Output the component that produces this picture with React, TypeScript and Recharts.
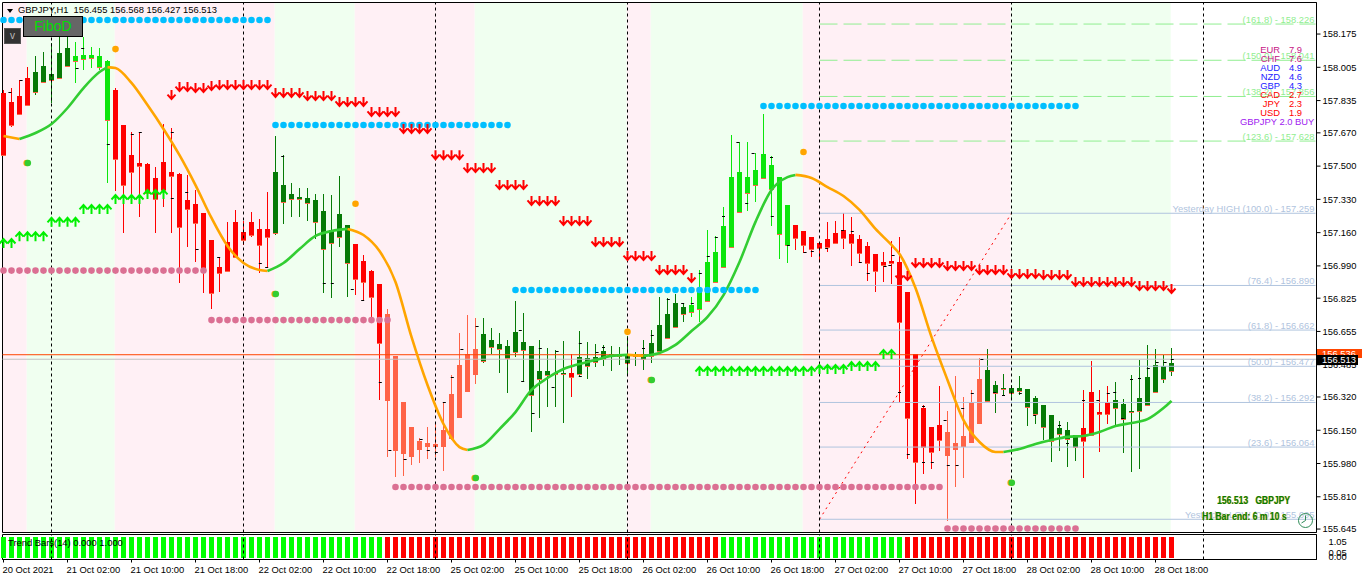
import { Bar, ComposedChart, Line, ReferenceArea, ReferenceLine, XAxis, YAxis } from "recharts"

const FONT = "'Liberation Sans', Arial, sans-serif"

const highs = [
  157.889, 157.899, 157.94, 158.006, 158.062, 158.083, 158.13, 158.16, 158.17, 158.134,
  158.16, 158.109, 158.104, 158.042, 157.899, 157.71, 157.675, 157.675, 157.516, 157.495,
  157.715, 157.695, 157.465, 157.454, 157.378, 157.261, 157.122, 157.035, 157.215, 157.276,
  157.22, 157.266, 157.23, 157.368, 157.654, 157.556, 157.414, 157.388, 157.388, 157.358,
  157.358, 157.352, 157.449, 157.199, 157.102, 157.045, 156.969, 156.898, 156.77, 156.53,
  156.295, 156.167, 156.11, 156.167, 156.187, 156.295, 156.432, 156.647, 156.739, 156.724,
  156.724, 156.672, 156.647, 156.611, 156.811, 156.749, 156.58, 156.611, 156.57, 156.56,
  156.606, 156.54, 156.657, 156.601, 156.591, 156.586, 156.58, 156.575, 156.631, 156.55,
  156.611, 156.662, 156.831, 156.826, 156.846, 156.8, 156.831, 156.969, 157.173, 157.142,
  157.291, 157.659, 157.623, 157.623, 157.567, 157.766, 157.551, 157.444, 157.301, 157.199,
  157.168, 157.137, 157.107, 157.215, 157.22, 157.261, 157.24, 157.148, 157.112, 157.05,
  157.061, 157.117, 157.137, 156.857, 156.54, 156.279, 156.167, 156.376, 156.249, 156.427,
  156.32, 156.356, 156.519, 156.565, 156.402, 156.438, 156.381, 156.427, 156.361, 156.325,
  156.279, 156.228, 156.197, 156.192, 156.125, 156.356, 156.504, 156.356, 156.376, 156.397,
  156.31, 156.432, 156.509, 156.586, 156.565, 156.535, 156.568,
]

const lows = [
  157.551, 157.7, 157.761, 157.807, 157.863, 157.925, 157.823, 157.95, 158.006, 157.925,
  157.991, 158.001, 157.991, 157.414, 157.373, 157.158, 157.312, 157.24, 157.342, 157.158,
  157.291, 157.158, 156.903, 157.087, 157.01, 156.852, 156.77, 156.857, 156.959, 157.035,
  157.097, 157.137, 156.954, 156.984, 157.148, 157.204, 157.24, 157.24, 157.22, 157.127,
  156.852, 156.826, 157.087, 156.831, 156.841, 156.816, 156.724, 156.305, 156.013, 155.911,
  155.916, 155.972, 155.983, 156.003, 156.013, 155.942, 156.1, 156.218, 156.346, 156.387,
  156.494, 156.54, 156.443, 156.341, 156.524, 156.397, 156.141, 156.213, 156.269, 156.269,
  156.187, 156.32, 156.422, 156.412, 156.473, 156.478, 156.453, 156.483, 156.438, 156.478,
  156.458, 156.494, 156.55, 156.616, 156.678, 156.703, 156.729, 156.703, 156.806, 156.903,
  156.984, 157.087, 157.261, 157.271, 157.317, 157.439, 157.194, 157.025, 157.005, 157.071,
  157.056, 157.035, 157.02, 157.061, 157.102, 157.076, 156.99, 157.005, 156.913, 156.857,
  156.908, 156.898, 156.29, 156.003, 155.773, 155.926, 155.952, 156.044, 155.686, 155.86,
  155.906, 156.085, 156.187, 156.295, 156.238, 156.325, 156.305, 156.33, 156.172, 156.182,
  156.1, 155.988, 156.044, 155.962, 155.993, 155.906, 156.125, 156.039, 156.182, 156.167,
  156.034, 155.937, 155.952, 156.279, 156.341, 156.392, 156.427,
]

const bodyTops = [
  157.874, 157.828, 157.858, 157.95, 157.981, 158.011, 157.971, 158.078, 158.104, 158.062,
  158.068, 158.068, 158.062, 158.037, 157.889, 157.71, 157.556, 157.516, 157.511, 157.439,
  157.521, 157.47, 157.46, 157.327, 157.307, 157.261, 157.122, 156.984, 157.112, 157.215,
  157.163, 157.215, 157.178, 157.178, 157.47, 157.403, 157.358, 157.342, 157.337, 157.327,
  157.271, 157.173, 157.255, 157.199, 157.102, 157.015, 156.964, 156.898, 156.744, 156.53,
  156.295, 156.167, 156.095, 156.085, 156.08, 156.151, 156.335, 156.483, 156.54, 156.565,
  156.642, 156.611, 156.591, 156.58, 156.652, 156.601, 156.58, 156.453, 156.453, 156.443,
  156.443, 156.443, 156.524, 156.519, 156.524, 156.555, 156.54, 156.535, 156.535, 156.54,
  156.54, 156.596, 156.688, 156.744, 156.8, 156.78, 156.79, 156.857, 157.01, 157.061,
  157.194, 157.444, 157.47, 157.444, 157.48, 157.562, 157.506, 157.444, 157.301, 157.199,
  157.168, 157.137, 157.107, 157.127, 157.158, 157.173, 157.153, 157.127, 157.092, 157.05,
  157.01, 157.015, 157.01, 156.857, 156.54, 156.264, 156.167, 156.177, 156.141, 156.085,
  156.121, 156.289, 156.412, 156.458, 156.381, 156.366, 156.366, 156.366, 156.361, 156.315,
  156.279, 156.228, 156.161, 156.151, 156.125, 156.161, 156.346, 156.243, 156.295, 156.305,
  156.284, 156.249, 156.315, 156.422, 156.483, 156.478, 156.493,
]

const bodyBottoms = [
  157.556, 157.71, 157.766, 157.812, 157.879, 157.93, 157.94, 157.95, 158.011, 158.037,
  158.047, 158.052, 158.006, 157.736, 157.536, 157.403, 157.47, 157.501, 157.363, 157.332,
  157.378, 157.449, 157.189, 157.281, 157.209, 156.974, 156.852, 156.954, 156.964, 157.035,
  157.122, 157.148, 157.097, 157.137, 157.158, 157.317, 157.332, 157.332, 157.312, 157.215,
  157.076, 157.107, 157.137, 157.005, 156.923, 156.908, 156.831, 156.596, 156.305, 156.049,
  156.034, 156.018, 156.054, 156.069, 156.069, 156.069, 156.11, 156.218, 156.351, 156.438,
  156.504, 156.575, 156.565, 156.519, 156.55, 156.56, 156.33, 156.412, 156.432, 156.438,
  156.438, 156.422, 156.438, 156.478, 156.499, 156.514, 156.53, 156.53, 156.494, 156.53,
  156.514, 156.53, 156.555, 156.621, 156.678, 156.744, 156.754, 156.77, 156.811, 156.908,
  156.984, 157.087, 157.266, 157.363, 157.403, 157.439, 157.383, 157.153, 157.097, 157.133,
  157.097, 157.076, 157.081, 157.087, 157.107, 157.133, 157.107, 157.056, 157.005, 156.964,
  156.995, 157.005, 156.703, 156.213, 155.988, 156.064, 156.039, 156.1, 156.023, 156.054,
  156.069, 156.09, 156.187, 156.3, 156.341, 156.361, 156.341, 156.351, 156.269, 156.233,
  156.167, 156.095, 156.131, 156.105, 156.064, 156.095, 156.125, 156.233, 156.233, 156.264,
  156.207, 156.243, 156.249, 156.279, 156.346, 156.412, 156.455,
]

const candleRuns: [string, number][] = [
  ["red", 4], ["dark", 5], ["lime", 5], ["red", 20], ["dark", 10], ["red", 4], ["tomato", 12], ["dark", 11],
  ["red", 1], ["dark", 14], ["lime", 13], ["red", 19], ["tomato", 5], ["dark", 12], ["red", 4], ["dark", 8],
]
const candleColors: Record<string, string> = { red: "#ff0000", dark: "#067a06", lime: "#0be60b", tomato: "#ff6347" }

// trend bars pane
const trendRuns: [string, number][] = [["up", 48], ["down", 42], ["up", 23], ["down", 34]]

// background zones, edges in bars, odd zones are green
const zoneEdges = [-0.125, 2.9, 13.9, 33.9, 43.9, 58.9, 77.9, 80.9, 99.9, 125.9, 145.9]

// the moving average, even segments are orange, odd ones green
const maSegments: [number, number][][] = [
  [[0, 157.654], [2, 157.639]],
  [[2, 157.639], [4, 157.669], [6, 157.715], [8, 157.797], [10, 157.899], [12, 157.981], [13, 158.006]],
  [[13, 158.006], [14, 158.001], [16, 157.925], [18, 157.812], [20, 157.69], [22, 157.556], [24, 157.403], [26, 157.235], [28, 157.092], [30, 157.005], [32, 156.969], [33, 156.964]],
  [[33, 156.964], [35, 157.005], [37, 157.076], [39, 157.143], [41, 157.168], [43, 157.179]],
  [[43, 157.179], [45, 157.148], [47, 157.066], [49, 156.908], [51, 156.627], [53, 156.381], [55, 156.182], [57, 156.064], [58, 156.049]],
  [[58, 156.049], [60, 156.075], [62, 156.156], [64, 156.243], [66, 156.356], [68, 156.417], [70, 156.463], [72, 156.489], [74, 156.509], [76, 156.53], [78, 156.535]],
  [[78, 156.535], [80, 156.53]],
  [[80, 156.53], [82, 156.545], [84, 156.586], [86, 156.657], [88, 156.729], [90, 156.841], [92, 157.01], [94, 157.215], [96, 157.378], [98, 157.444], [99, 157.455]],
  [[99, 157.455], [101, 157.439], [103, 157.393], [105, 157.347], [107, 157.276], [109, 157.179], [111, 157.097], [112, 157.051], [114, 156.877], [116, 156.627], [118, 156.407], [120, 156.202], [122, 156.09], [124, 156.039], [125, 156.039]],
  [[125, 156.039], [127, 156.054], [129, 156.08], [131, 156.1], [133, 156.116], [135, 156.121], [137, 156.141], [139, 156.172], [141, 156.187], [143, 156.207], [145, 156.264], [146, 156.3]],
]

// [first bar, last bar, price]
const blueLevels: [number, number, number][] = [[0, 33, 158.247], [34, 63, 157.71], [64, 94, 156.867], [95, 134, 157.807]]
const pinkLevels: [number, number, number][] = [[0, 25, 156.966], [26, 48, 156.713], [49, 117, 155.86], [118, 134, 155.648]]
const downArrows: [number, number, number][] = [
  [21, 21, 157.863], [22, 23, 157.904], [24, 25, 157.899], [26, 26, 157.909], [27, 33, 157.914], [34, 37, 157.874],
  [38, 41, 157.858], [42, 45, 157.828], [46, 49, 157.777], [50, 53, 157.69], [54, 57, 157.556], [58, 61, 157.49],
  [62, 65, 157.403], [66, 69, 157.322], [70, 73, 157.22], [74, 77, 157.112], [78, 81, 157.04], [82, 85, 156.969],
  [86, 86, 156.928], [112, 113, 156.938], [114, 117, 157.005], [118, 121, 156.99], [122, 125, 156.969],
  [126, 129, 156.949], [130, 133, 156.944], [134, 141, 156.908], [142, 145, 156.887], [146, 146, 156.872],
]
const upArrows: [number, number, number][] = [
  [0, 1, 157.107], [2, 5, 157.142], [6, 9, 157.215], [10, 13, 157.281], [14, 17, 157.332], [18, 20, 157.358],
  [87, 101, 156.453], [102, 105, 156.463], [106, 109, 156.478], [110, 111, 156.54],
]
const orangeDots: [number, number, number][] = [[14, 14, 158.098], [44, 44, 157.308], [78, 78, 156.653], [100, 100, 157.572]]
const greenDots: [number, number, number][] = [[3, 3, 157.516], [34, 34, 156.846], [59, 59, 155.906], [81, 81, 156.407], [126, 126, 155.882]]

// little black dashes beside the wicks
const dashBars = [
  0.8, 2.2, 9.2, 9.9, 13.1, 16.1, 17.1, 21.1, 21.1, 22.9, 24.2, 26.9, 32.1, 32.9, 34.9, 40.1, 41.1, 43.6, 44.9, 47.1,
  48.3, 50.2, 52.2, 53.1, 54.1, 55.1, 56.1, 57.3, 59.2, 64.6, 64.9, 66.2, 67.1, 68.7, 69.2, 72.1, 72.1, 74.2, 75, 80,
  81.1, 83.1, 84.9, 86.1, 87.1, 88.1, 89.1, 90, 91.8, 93.7, 92.9, 96, 96.1, 98.1, 100.2, 101.1, 102.9, 104.9, 106.1, 107.1,
  108.1, 110.2, 110.8, 111.2, 112, 113.1, 115, 115, 116.1, 117.7, 118.1, 119.2, 119.9, 121.1, 122.3, 123.9, 125, 127.1, 128.9, 132,
  133, 135, 136.8, 138.1, 138.9, 139.9, 141, 142, 143.1, 144.2, 145.2, 146.1,
]
const dashPrices = [
  157.879, 157.94, 158.001, 158.104, 157.613, 157.664, 157.675, 157.675, 157.337, 157.368, 157.076, 157.035, 157.005, 156.984, 157.551, 156.903, 156.903, 156.872, 156.816, 156.397,
  156.049, 156.003, 156.105, 156.049, 156.039, 156.295, 156.422, 156.565, 156.683, 156.662, 156.402, 156.238, 156.57, 156.371, 156.555, 156.596, 156.427, 156.55, 156.575, 156.57,
  156.637, 156.821, 156.8, 156.8, 156.954, 157.04, 157.137, 157.245, 157.623, 157.567, 157.312, 157.546, 157.245, 157.097, 157.061, 157.066, 157.081, 157.173, 157.168, 157.01,
  156.954, 156.99, 156.995, 157.046, 156.346, 156.029, 156.274, 155.988, 155.988, 156.202, 155.972, 155.972, 156.264, 156.34, 156.514, 156.346, 156.33, 156.34, 156.228, 156.177,
  156.085, 156.305, 156.305, 156.34, 156.346, 156.213, 156.412, 156.417, 156.468, 156.499, 156.499, 156.514,
]

const priceTicks = [158.175, 158.005, 157.835, 157.67, 157.5, 157.33, 157.16, 156.99, 156.825, 156.655, 156.485, 156.32, 156.15, 155.98, 155.81, 155.645]
const timeLabels = [
  "20 Oct 2021", "21 Oct 02:00", "21 Oct 10:00", "21 Oct 18:00", "22 Oct 02:00", "22 Oct 10:00", "22 Oct 18:00",
  "25 Oct 02:00", "25 Oct 10:00", "25 Oct 18:00", "26 Oct 02:00", "26 Oct 10:00", "26 Oct 18:00", "27 Oct 02:00",
  "27 Oct 10:00", "27 Oct 18:00", "28 Oct 02:00", "28 Oct 10:00", "28 Oct 18:00",
]
const timeTicks = timeLabels.map((_, i) => i * 8)
const sessionBars = [6, 30, 54, 78, 102, 126, 150]

const fiboUpper = [["(161.8) - 158.226", 158.226], ["(150.0) - 158.041", 158.041], ["(138.2) - 157.856", 157.856], ["(123.6) - 157.628", 157.628]] as [string, number][]
const fiboLower = [
  ["Yesterday HIGH (100.0) - 157.259", 157.259], ["(76.4) - 156.890", 156.89], ["(61.8) - 156.662", 156.662], ["(50.0) - 156.477", 156.477],
  ["(38.2) - 156.292", 156.292], ["(23.6) - 156.064", 156.064], ["Yesterday LOW (0.0) - 155.695", 155.695],
] as [string, number][]

const strengthNames = ["EUR", "CHF", "AUD", "NZD", "GBP", "CAD", "JPY", "USD"]
const strengthValues = ["7.9", "7.6", "4.9", "4.6", "4.3", "2.7", "2.3", "1.9"]
const strengthColors = ["#c71585", "#c71585", "#2222ff", "#2222ff", "#2222ff", "#ff0000", "#ff0000", "#ff0000"]

const xDomain = [-0.125, 164.125]
const TICK_SIZE = 9.4

const expand = (runs: [string, number][]) => runs.flatMap(([name, n]) => Array.from({ length: n }, () => name))
const levelAt = (levels: [number, number, number][], k: number) => {
  const hit = levels.find(([a, b]) => k >= a && k <= b)
  return hit ? hit[2] : null
}

const kinds = expand(candleRuns)
const trends = expand(trendRuns)

const rows = highs.map((high, k) => {
  const row: any = {
    k,
    range: [lows[k], high],
    bodyTop: bodyTops[k],
    bodyBottom: bodyBottoms[k],
    kind: kinds[k],
    trendValue: 1,
    trend: trends[k],
    blue: levelAt(blueLevels, k),
    pink: levelAt(pinkLevels, k),
    down: levelAt(downArrows, k),
    up: levelAt(upArrows, k),
    orangeDot: levelAt(orangeDots, k),
    greenDot: levelAt(greenDots, k),
  }
  maSegments.forEach((seg, i) => {
    const p = seg.find(([b]) => b === k)
    row[`ma${i}`] = p ? p[1] : null
  })
  return row
})

const dashRows = dashBars.map((k, i) => ({ k, price: dashPrices[i] }))

function CandleShape(props: any) {
  const { x, y, width, height, payload } = props
  const [low, high] = payload.range
  const cx = Math.floor(x + width / 2) + 0.5
  const yOf = (p: number) => Math.round(y + ((high - p) / (high - low)) * height)
  const color = candleColors[payload.kind]
  const top = yOf(payload.bodyTop)
  const bottom = Math.max(yOf(payload.bodyBottom), top + 1)
  return (
    <g>
      <line x1={cx} x2={cx} y1={Math.round(y)} y2={Math.round(y + height)} stroke={color} strokeWidth={1} />
      <rect x={cx - 2.5} y={top} width={5} height={bottom - top} fill={color} />
      <rect x={cx - 2.5} y={bottom} width={5} height={1} fill="#ff6347" />
    </g>
  )
}

function TrendShape(props: any) {
  const { x, y, width, height, payload } = props
  const cx = Math.floor(x + width / 2) + 0.5
  return <rect x={cx - 2.5} y={Math.round(y)} width={5} height={Math.round(height)} fill={payload.trend === "up" ? "#00ff00" : "#ff0000"} />
}

const hasPoint = (p: any) => p.cy !== null && p.cy !== undefined && !Number.isNaN(p.cy) && p.payload

const roundDot = (fill: string, r: number) => (p: any) =>
  hasPoint(p) && p.value !== null ? <circle key={p.key} cx={p.cx} cy={p.cy} r={r} fill={fill} /> : <g key={p.key} />

const signalDot = (p: any) =>
  hasPoint(p) && p.value !== null ? (
    <g key={p.key}>
      <circle cx={p.cx - 0.8} cy={p.cy} r={3.3} fill="#ffa500" />
      <circle cx={p.cx + 0.3} cy={p.cy} r={3.3} fill="#32cd32" />
    </g>
  ) : (
    <g key={p.key} />
  )

const downMark = (p: any) =>
  hasPoint(p) && p.value !== null ? (
    <path
      key={p.key}
      d={`M${p.cx} ${p.cy - 5}V${p.cy + 4}M${p.cx - 4} ${p.cy - 0.5}L${p.cx} ${p.cy + 4}L${p.cx + 4} ${p.cy - 0.5}`}
      fill="none"
      stroke="#ff0000"
      strokeWidth={2}
    />
  ) : (
    <g key={p.key} />
  )

const upMark = (p: any) =>
  hasPoint(p) && p.value !== null ? (
    <path
      key={p.key}
      d={`M${p.cx} ${p.cy + 5}V${p.cy - 4}M${p.cx - 4} ${p.cy + 0.5}L${p.cx} ${p.cy - 4}L${p.cx + 4} ${p.cy + 0.5}`}
      fill="none"
      stroke="#00f000"
      strokeWidth={2}
    />
  ) : (
    <g key={p.key} />
  )

const dashMark = (p: any) =>
  hasPoint(p) ? <line key={p.key} x1={p.cx - 1.5} x2={p.cx + 1.5} y1={Math.round(p.cy) + 0.5} y2={Math.round(p.cy) + 0.5} stroke="#000" /> : <g key={p.key} />

function TimeTick({ x, y, payload }: any) {
  return (
    <text x={x - 1} y={y + 8} textAnchor="start" fontSize={TICK_SIZE} fontFamily={FONT} fill="#000">
      {timeLabels[payload.value / 8]}
    </text>
  )
}

const paneTickShift: Record<string, number> = { "1.05": 5.5, "0.05": -3.7, "0": -1 }
function PaneTick({ x, y, payload }: any) {
  const label = payload.value === 0 ? "0.00" : payload.value.toFixed(2)
  return (
    <text x={x + 4} y={y + paneTickShift[String(payload.value)] + 3.5} fontSize={TICK_SIZE} fontFamily={FONT} fill="#000">
      {label}
    </text>
  )
}

function Tag({ left, top, color, size = TICK_SIZE, children, style }: any) {
  return (
    <div
      style={{
        position: "absolute",
        left,
        top,
        color,
        fontSize: size,
        lineHeight: "10px",
        fontFamily: FONT,
        whiteSpace: "pre",
        ...style,
      }}
    >
      {children}
    </div>
  )
}

const timerStyle = { fontWeight: 700, textShadow: "1px 0 0 #e0c040", transform: "scaleX(0.78)", transformOrigin: "left center" }

export default function App() {
  return (
    <div style={{ position: "absolute", left: 0, top: 0, width: 1362, height: 581, background: "#fff", overflow: "hidden" }}>
      <ComposedChart
        width={1362}
        height={533}
        data={rows}
        margin={{ top: 2.5, right: 0, left: 2.5, bottom: 0.5 }}
        style={{ position: "absolute", left: 0, top: 0 }}
      >
        <XAxis hide type="number" dataKey="k" domain={xDomain} />
        <XAxis hide xAxisId="dash" type="number" dataKey="k" domain={xDomain} />
        <YAxis
          orientation="right"
          width={45.5}
          domain={[155.6274, 158.3362]}
          ticks={priceTicks}
          interval={0}
          tickSize={4}
          tickMargin={2}
          stroke="#000"
          tick={{ fontSize: TICK_SIZE, fontFamily: FONT, fill: "#000" }}
          tickFormatter={(v: number) => v.toFixed(3)}
        />
        {zoneEdges.slice(0, -1).map((edge, i) => (
          <ReferenceArea key={edge} x1={edge} x2={zoneEdges[i + 1]} fill={i % 2 ? "#f0fff0" : "#fff0f5"} fillOpacity={1} stroke="none" />
        ))}
        {fiboUpper.map(([text, price]) => (
          <ReferenceLine
            key={text}
            segment={[{ x: 102, y: price }, { x: 164, y: price }]}
            stroke="#90ee90"
            strokeDasharray="18 6"
            label={{ value: text, position: "insideBottomRight", offset: 1, fill: "#90ee90", fontSize: TICK_SIZE, fontFamily: FONT }}
          />
        ))}
        {fiboLower.map(([text, price]) => (
          <ReferenceLine
            key={text}
            segment={[{ x: 102, y: price }, { x: 164, y: price }]}
            stroke="#b0c4de"
            label={{ value: text, position: "insideBottomRight", offset: 1, fill: "#b0c4de", fontSize: TICK_SIZE, fontFamily: FONT }}
          />
        ))}
        <ReferenceLine segment={[{ x: 102, y: 155.695 }, { x: 126, y: 157.259 }]} stroke="#ff0000" strokeDasharray="2 4" />
        {sessionBars.map((k) => (
          <ReferenceLine key={k} x={k} stroke="#000" strokeDasharray="3 3" />
        ))}
        <ReferenceLine y={156.536} stroke="#ff4500" />
        <ReferenceLine y={156.513} stroke="#c0c0c0" />
        <Bar dataKey="range" barSize={6} shape={CandleShape} isAnimationActive={false} />
        {maSegments.map((_, i) => (
          <Line
            key={i}
            dataKey={`ma${i}`}
            type="monotone"
            connectNulls
            stroke={i % 2 ? "#32cd32" : "#ffa500"}
            strokeWidth={2.6}
            dot={false}
            activeDot={false}
            isAnimationActive={false}
          />
        ))}
        <Line dataKey="pink" stroke="none" dot={roundDot("#db7093", 3.3)} activeDot={false} isAnimationActive={false} />
        <Line dataKey="blue" stroke="none" dot={roundDot("#00bfff", 3.3)} activeDot={false} isAnimationActive={false} />
        <Line dataKey="down" stroke="none" dot={downMark} activeDot={false} isAnimationActive={false} />
        <Line dataKey="up" stroke="none" dot={upMark} activeDot={false} isAnimationActive={false} />
        <Line dataKey="orangeDot" stroke="none" dot={roundDot("#ffa500", 3.3)} activeDot={false} isAnimationActive={false} />
        <Line dataKey="greenDot" stroke="none" dot={signalDot} activeDot={false} isAnimationActive={false} />
        <Line xAxisId="dash" data={dashRows} dataKey="price" stroke="none" dot={dashMark} activeDot={false} isAnimationActive={false} />
        <ReferenceArea x1={xDomain[0]} x2={xDomain[1]} y1={155.6274} y2={158.3362} fill="none" stroke="#000" />
      </ComposedChart>

      <ComposedChart
        width={1362}
        height={47}
        data={rows}
        margin={{ top: 0.5, right: 0, left: 2.5, bottom: 0 }}
        style={{ position: "absolute", left: 0, top: 534 }}
      >
        <XAxis
          type="number"
          dataKey="k"
          domain={xDomain}
          ticks={timeTicks}
          interval={0}
          height={21.5}
          tickSize={3}
          stroke="#000"
          tick={<TimeTick />}
        />
        <YAxis
          orientation="right"
          width={45.5}
          domain={[-0.087, 1.121]}
          ticks={[1.05, 0.05, 0]}
          interval={0}
          tickLine={false}
          stroke="#000"
          tick={<PaneTick />}
        />
        {sessionBars.map((k) => (
          <ReferenceLine key={k} x={k} stroke="#000" strokeDasharray="3 3" />
        ))}
        <Bar dataKey="trendValue" barSize={6} shape={TrendShape} isAnimationActive={false} />
        <ReferenceArea x1={xDomain[0]} x2={xDomain[1]} y1={-0.087} y2={1.121} fill="none" stroke="#000" />
      </ComposedChart>

      {/* header and buttons */}
      <div style={{ position: "absolute", left: 7, top: 9, width: 0, height: 0, borderLeft: "3.5px solid transparent", borderRight: "3.5px solid transparent", borderTop: "4px solid #000" }} />
      <Tag left={18} top={5} color="#000">GBPJPY,H1  156.455 156.568 156.427 156.513</Tag>
      <div style={{ position: "absolute", left: 23, top: 16, width: 58, height: 19, background: "#666", border: "1px solid #000", color: "#00e000", fontSize: 14, lineHeight: "19px", textAlign: "center", fontFamily: FONT }}>FiboD</div>
      <div style={{ position: "absolute", left: 4, top: 28, width: 15, height: 14, background: "#333", border: "1px solid #555", color: "#bbb", fontSize: 10, lineHeight: "13px", textAlign: "center", fontFamily: FONT }}>v</div>

      {/* currency strength */}
      {strengthNames.map((name, i) => (
        <div key={name}>
          <Tag left={1240} top={45 + i * 9} color={strengthColors[i]} style={{ width: 40, textAlign: "right" }}>{name}</Tag>
          <Tag left={1289} top={45 + i * 9} color={strengthColors[i]}>{strengthValues[i]}</Tag>
        </div>
      ))}
      <Tag left={1240} top={117} color="#a020f0">GBPJPY 2.0 BUY</Tag>

      {/* price flags */}
      <div style={{ position: "absolute", left: 1317, top: 349, width: 45, height: 9, background: "#ff4500", color: "#fff", fontSize: TICK_SIZE, lineHeight: "10px", fontFamily: FONT, paddingLeft: 5, boxSizing: "border-box" }}>156.536</div>
      <div style={{ position: "absolute", left: 1317, top: 355, width: 41, height: 10, background: "#000", color: "#fff", fontSize: TICK_SIZE, lineHeight: "10px", fontFamily: FONT, paddingLeft: 5, boxSizing: "border-box" }}>156.513</div>

      {/* timer */}
      <Tag left={1217} top={495} color="#067a06" size={11} style={timerStyle}>156.513   GBPJPY</Tag>
      <Tag left={1202} top={511} color="#067a06" size={11} style={timerStyle}>H1 Bar end: 6 m 10 s</Tag>
      <svg style={{ position: "absolute", left: 1297, top: 512 }} width={17} height={17}>
        <circle cx={8.5} cy={8.5} r={7} fill="none" stroke="#2e8b57" />
        <path d="M8.5 3.5V8.5L4.5 11" fill="none" stroke="#2e8b57" />
      </svg>

      <Tag left={8} top={538} color="#000">Trend Bars(14) 0.000 1.000</Tag>
    </div>
  )
}
